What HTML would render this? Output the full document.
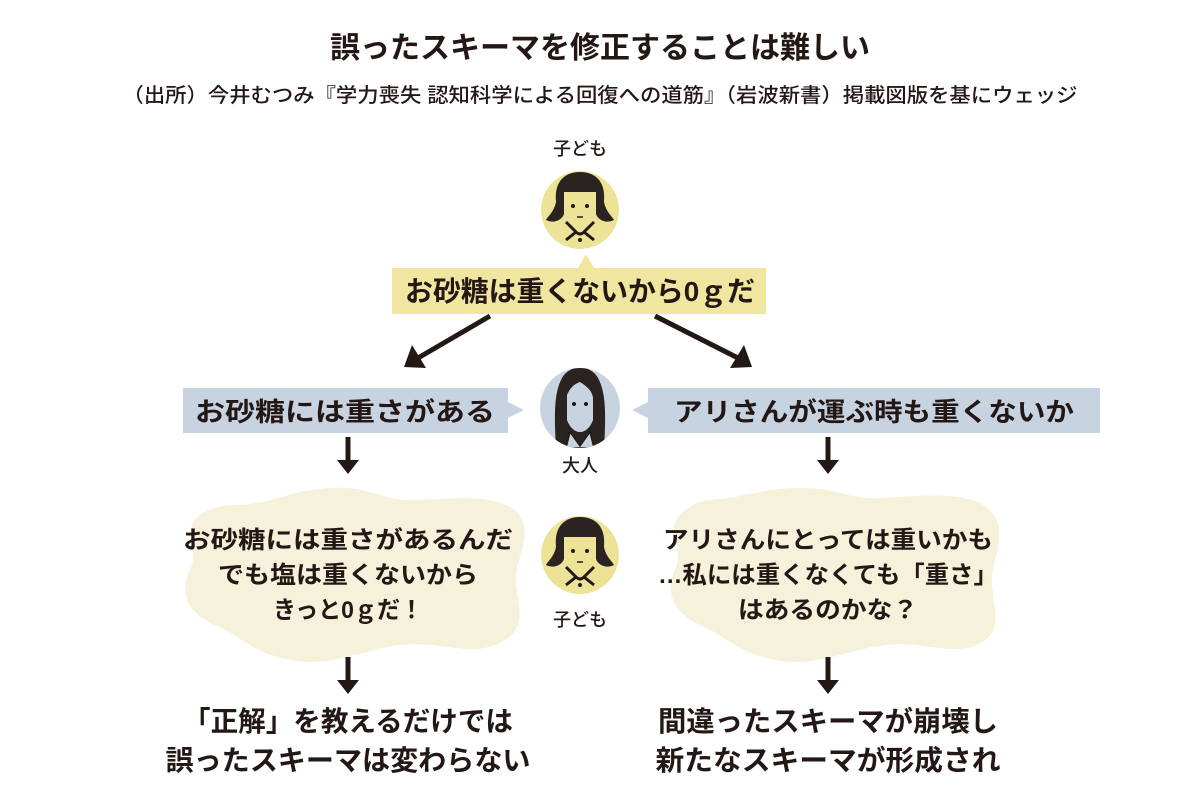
<!DOCTYPE html>
<html><head><meta charset="utf-8"><style>
html,body{margin:0;padding:0;background:#fff;}
svg{display:block;}
text{font-family:"Liberation Sans","Noto Sans CJK JP",sans-serif;fill:#231815;font-weight:bold;}
</style></head><body>
<svg width="1199" height="799" viewBox="0 0 1199 799" xmlns="http://www.w3.org/2000/svg">
<defs>
<g id="child">
 <circle cx="0" cy="0" r="39" fill="#ede397"/>
 <path d="M-24,-8 C-26,-30 -14,-38 0,-38 C14,-38 26,-30 24,-8 C26,2 32,6 34,10 C26,14 18,10 16,4 L16,-18 L-16,-18 L-16,4 C-18,10 -26,14 -34,10 C-32,6 -26,2 -24,-8 Z" fill="#2a2320"/>
 <rect x="-15" y="-18" width="30" height="30" fill="#ede397"/>
 <circle cx="-7" cy="-4" r="2" fill="#231815"/><circle cx="7" cy="-4" r="2" fill="#231815"/>
 <line x1="-3" y1="7" x2="3" y2="7" stroke="#231815" stroke-width="1.5"/>
 <path d="M-14,12 L-4,22 L-14,30 M14,12 L4,22 L14,30 M-4,22 Q0,26 4,22" stroke="#231815" stroke-width="3" fill="none"/>
 <circle cx="0" cy="30" r="2" fill="#231815"/>
</g>
<clipPath id="ac"><circle cx="580" cy="408" r="40"/></clipPath>
</defs>
<text x="600" y="58" font-size="30" text-anchor="middle" textLength="540" lengthAdjust="spacingAndGlyphs">誤ったスキーマを修正することは難しい</text>
<text x="600" y="102" font-size="20" text-anchor="middle" textLength="955" lengthAdjust="spacingAndGlyphs" style="font-weight:500">（出所）今井むつみ『学力喪失 認知科学による回復への道筋』（岩波新書）掲載図版を基にウェッジ</text>

<text x="580" y="155" font-size="18" text-anchor="middle" style="font-weight:500">子ども</text>
<use href="#child" x="580" y="210"/>

<path d="M392,268 L578,268 L586,254 L594,268 L766,268 L766,314 L392,314 Z" fill="#f0e6a0"/>
<text x="580" y="301" font-size="28" text-anchor="middle" textLength="350" lengthAdjust="spacingAndGlyphs">お砂糖は重くないから0ｇだ</text>

<line x1="490" y1="316" x2="418" y2="358" stroke="#231815" stroke-width="5"/>
<path d="M404,367 L412,345 L426,368 Z" fill="#231815"/>
<line x1="655" y1="316" x2="738" y2="358" stroke="#231815" stroke-width="5"/>
<path d="M752,367 L730,368 L744,345 Z" fill="#231815"/>

<path d="M183,388 L508,388 L508,402 L524,410 L508,418 L508,433 L183,433 Z" fill="#c8d3e1"/>
<text x="345" y="421" font-size="26" text-anchor="middle" textLength="300" lengthAdjust="spacingAndGlyphs">お砂糖には重さがある</text>
<path d="M648,388 L1100,388 L1100,433 L648,433 L648,418 L632,410 L648,402 Z" fill="#c8d3e1"/>
<text x="874" y="421" font-size="26" text-anchor="middle" textLength="400" lengthAdjust="spacingAndGlyphs">アリさんが運ぶ時も重くないか</text>

<circle cx="580" cy="408" r="40" fill="#c8d3e1"/>
<g clip-path="url(#ac)">
<path d="M556,448 C554,415 554,392 562,378 C570,364 590,364 598,378 C606,392 606,415 604,448 Z" fill="#2a2320"/>
<path d="M567,395 C570,388 574,384 580,382 C586,386 592,390 593,398 L593,420 C590,428 585,432 580,432 C575,432 570,428 567,420 Z" fill="#c8d3e1"/>
<path d="M566,448 L570,432 L580,446 L590,432 L594,448 Z" fill="#c8d3e1" stroke="#231815" stroke-width="1.5"/>
</g>
<circle cx="574" cy="404" r="2" fill="#231815"/><circle cx="586" cy="404" r="2" fill="#231815"/>
<text x="580" y="472" font-size="18" text-anchor="middle" style="font-weight:500">大人</text>

<line x1="348" y1="437" x2="348" y2="462" stroke="#231815" stroke-width="5"/>
<path d="M337,460 L359,460 L348,474 Z" fill="#231815"/>
<line x1="828" y1="437" x2="828" y2="462" stroke="#231815" stroke-width="5"/>
<path d="M817,460 L839,460 L828,474 Z" fill="#231815"/>

<path d="M235,505 C270,505 290,490 330,488 C370,486 380,500 410,500 C450,500 490,492 515,510 C535,530 518,555 516,575 C515,600 530,625 505,640 C475,660 440,640 400,645 C360,650 330,668 290,660 C250,652 240,635 215,625 C185,612 180,590 190,570 C200,550 180,530 200,515 C210,508 222,505 235,505 Z" fill="#f5f1db"/>
<text x="348" y="548" font-size="24" text-anchor="middle" textLength="330" lengthAdjust="spacingAndGlyphs">お砂糖には重さがあるんだ</text>
<text x="348" y="583" font-size="24" text-anchor="middle" textLength="260" lengthAdjust="spacingAndGlyphs">でも塩は重くないから</text>
<text x="348" y="618" font-size="24" text-anchor="middle" textLength="150" lengthAdjust="spacingAndGlyphs">きっと0ｇだ！</text>

<use href="#child" x="580" y="555"/>
<text x="580" y="626" font-size="18" text-anchor="middle" style="font-weight:500">子ども</text>

<path d="M710,500 C745,498 760,488 800,488 C840,488 850,500 880,498 C920,496 970,490 990,510 C1008,530 995,555 992,575 C990,600 1005,625 985,640 C960,660 925,640 885,645 C845,650 815,668 775,660 C735,652 725,635 700,625 C672,612 665,590 675,570 C685,550 665,530 680,515 C690,505 700,501 710,500 Z" fill="#f5f1db"/>
<text x="828" y="548" font-size="24" text-anchor="middle" textLength="330" lengthAdjust="spacingAndGlyphs">アリさんにとっては重いかも</text>
<text x="828" y="583" font-size="24" text-anchor="middle" textLength="340" lengthAdjust="spacingAndGlyphs">…私には重くなくても「重さ」</text>
<text x="828" y="618" font-size="24" text-anchor="middle" textLength="180" lengthAdjust="spacingAndGlyphs">はあるのかな？</text>

<line x1="348" y1="657" x2="348" y2="682" stroke="#231815" stroke-width="5"/>
<path d="M337,680 L359,680 L348,694 Z" fill="#231815"/>
<line x1="828" y1="657" x2="828" y2="682" stroke="#231815" stroke-width="5"/>
<path d="M817,680 L839,680 L828,694 Z" fill="#231815"/>

<text x="348" y="731" font-size="28" text-anchor="middle" textLength="330" lengthAdjust="spacingAndGlyphs">「正解」を教えるだけでは</text>
<text x="348" y="770" font-size="28" text-anchor="middle" textLength="365" lengthAdjust="spacingAndGlyphs">誤ったスキーマは変わらない</text>
<text x="828" y="731" font-size="28" text-anchor="middle" textLength="340" lengthAdjust="spacingAndGlyphs">間違ったスキーマが崩壊し</text>
<text x="828" y="770" font-size="28" text-anchor="middle" textLength="345" lengthAdjust="spacingAndGlyphs">新たなスキーマが形成され</text>
</svg>
</body></html>
